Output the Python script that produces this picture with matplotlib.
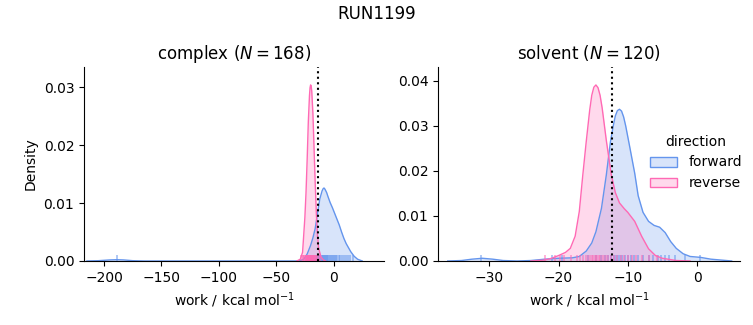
#!/usr/bin/env python3

import matplotlib.pyplot as plt
from matplotlib.colors import to_rgba
from matplotlib.patches import Patch

# Density curves (work in kcal/mol, density)
complex_fwd_x = [-215, -205, -195, -189, -183, -175, -165, -30, -26, -23, -20, -18, -16, -14, -12,
                 -10, -9, -8.3, -7.5, -6, -5, -3, -1, 1, 3, 5, 7, 9, 11, 13, 15, 18, 21, 25]
complex_fwd_y = [0.0, 0.00005, 0.00018, 0.00022, 0.00018, 0.00005, 0.0, 0.0, 0.0003, 0.0012, 0.0027,
                 0.0040, 0.0056, 0.0082, 0.0107, 0.0121, 0.0125, 0.0126, 0.0124, 0.0118, 0.0112,
                 0.0101, 0.0092, 0.0082, 0.0072, 0.0062, 0.0050, 0.0039, 0.0030, 0.0023, 0.0016,
                 0.0008, 0.0003, 0.0]
complex_rev_x = [-32, -29, -27, -25, -24, -23, -22, -21, -20.5, -20, -19.5, -19, -18, -17, -16, -15,
                 -14, -13, -11, -9, -7]
complex_rev_y = [0.0, 0.0003, 0.0015, 0.0075, 0.0118, 0.0175, 0.0240, 0.0285, 0.0299, 0.0304,
                 0.0302, 0.0293, 0.0255, 0.0195, 0.0135, 0.0082, 0.0045, 0.0022, 0.0007, 0.0002, 0.0]

solvent_fwd_x = [-36, -34, -32.5, -31, -29.5, -28, -26, -24, -22, -20, -18, -17, -16, -15.2, -14.6,
                 -13.8, -13.1, -12.5, -12.1, -11.8, -11.5, -11.2, -10.9, -10.6, -10.3, -9.7, -9.0,
                 -8.5, -7.8, -7, -6.2, -5.4, -4.6, -3.8, -3, -2, -1, 0.5, 2, 3.5, 5]
solvent_fwd_y = [0.0, 0.0001, 0.0004, 0.0006, 0.0004, 0.0001, 0.0, 0.0001, 0.0004, 0.0006, 0.0007,
                 0.0010, 0.0022, 0.0040, 0.0065, 0.0117, 0.0191, 0.0265, 0.0300, 0.0322, 0.0334,
                 0.0337, 0.0333, 0.0320, 0.0300, 0.0252, 0.0195, 0.0145, 0.0108, 0.0088, 0.0079,
                 0.0075, 0.0063, 0.0043, 0.0028, 0.0016, 0.0010, 0.0008, 0.0004, 0.0002, 0.0]
solvent_rev_x = [-24, -22, -21, -20, -19, -18.3, -17.6, -17, -16.5, -16, -15.5, -15.2, -14.9, -14.6,
                 -14.3, -14.0, -13.7, -13.1, -12.4, -11.8, -11.2, -10.5, -10, -9, -8, -7, -6, -5,
                 -3, -1]
solvent_rev_y = [0.0, 0.0002, 0.0006, 0.0012, 0.0019, 0.0028, 0.0055, 0.0110, 0.0190, 0.0265,
                 0.0335, 0.0368, 0.0386, 0.0391, 0.0385, 0.0368, 0.0340, 0.0268, 0.0193, 0.0152,
                 0.0129, 0.0116, 0.0108, 0.0088, 0.0055, 0.0027, 0.0012, 0.0006, 0.0001, 0.0]

# Individual work values (rug)
complex_fwd_rug = [-188.7, -22, -19, -17, -15.5, -14.3, -13.2, -12.4, -11.6, -10.9, -10.2, -9.6, -9,
                   -8.4, -7.8, -7.2, -6.6, -6, -5.3, -4.6, -3.9, -3.1, -2.3, -1.5, -0.6, 0.3, 1.2,
                   2.2, 3.3, 4.5, 5.8, 7.2, 8.8, 10.5, 12.4, 14.6, 17]
complex_rev_rug = [-28.5, -27, -26.2, -25.5, -25, -24.4, -24, -23.6, -23.2, -22.9, -22.5, -22.2,
                   -21.9, -21.6, -21.3, -21, -20.8, -20.5, -20.2, -20, -19.8, -19.5, -19.2, -19,
                   -18.7, -18.4, -18.1, -17.8, -17.5, -17.1, -16.7, -16.3, -15.9, -15.4, -14.8,
                   -14, -13, -11.5]
solvent_fwd_rug = [-31.2, -21, -19.5, -15.8, -14.6, -13.9, -13.3, -12.8, -12.4, -12, -11.7, -11.4,
                   -11.1, -10.8, -10.4, -10, -9.6, -9.1, -8.5, -7.8, -7, -6.3, -5.7, -5.2, -4.6,
                   -4, -3.2, -1.8, 0.5]
solvent_rev_rug = [-21.9, -20.5, -19.8, -19.2, -18.2, -17.4, -16.9, -16.5, -16.1, -15.8, -15.5,
                   -15.2, -15, -14.8, -14.6, -14.4, -14.2, -14, -13.7, -13.4, -13.1, -12.8, -12.4,
                   -12, -11.5, -11, -10.5, -10, -9.4, -8.8, -8, -7, -5.8]

# Free energy estimates (dotted lines)
complex_dg = -13.4
solvent_dg = -12.3

colors = {'forward': 'cornflowerblue', 'reverse': 'hotpink'}

panels = [
    ('complex ($N = 168$)', complex_fwd_x, complex_fwd_y, complex_rev_x, complex_rev_y,
     complex_fwd_rug, complex_rev_rug, complex_dg, (-217.5, 44), (0, 0.0335),
     [-200, -150, -100, -50, 0], [0, 0.01, 0.02, 0.03]),
    ('solvent ($N = 120$)', solvent_fwd_x, solvent_fwd_y, solvent_rev_x, solvent_rev_y,
     solvent_fwd_rug, solvent_rev_rug, solvent_dg, (-37.4, 6.2), (0, 0.0431),
     [-30, -20, -10, 0], [0, 0.01, 0.02, 0.03, 0.04]),
]

fig = plt.figure(figsize=(7.53, 3.25), dpi=100)
fig.suptitle('RUN1199', fontsize=12, y=0.985)
axes = [fig.add_axes([0.1116, 0.197, 0.3984, 0.597]),
        fig.add_axes([0.5817, 0.197, 0.401, 0.597])]

for ax, (title, fx, fy, rx, ry, frug, rrug, dg, xlim, ylim, xt, yt) in zip(axes, panels):
    for name, x, y, rug in [('forward', fx, fy, frug), ('reverse', rx, ry, rrug)]:
        c = colors[name]
        ax.fill_between(x, y, color=c, alpha=0.25, linewidth=0)
        ax.plot(x, y, color=c, linewidth=1)
        ax.vlines(rug, 0, 0.03, color=c, alpha=0.6, linewidth=1.2,
                  transform=ax.get_xaxis_transform())
    ax.axvline(dg, color='black', linestyle=':', linewidth=1.5)
    ax.set_xlim(*xlim)
    ax.set_ylim(*ylim)
    ax.set_xticks(xt)
    ax.set_yticks(yt)
    ax.set_title(title, fontsize=12)
    ax.set_xlabel('work / kcal mol$^{-1}$')
    ax.spines['top'].set_visible(False)
    ax.spines['right'].set_visible(False)

axes[0].set_ylabel('Density')

handles = [Patch(facecolor=to_rgba(colors[k], 0.25), edgecolor=colors[k]) for k in colors]
fig.legend(handles, list(colors), title='direction', loc='center left',
           bbox_to_anchor=(0.846, 0.5), frameon=False, fontsize=10, title_fontsize=10)

plt.savefig('out.png', dpi=100)
